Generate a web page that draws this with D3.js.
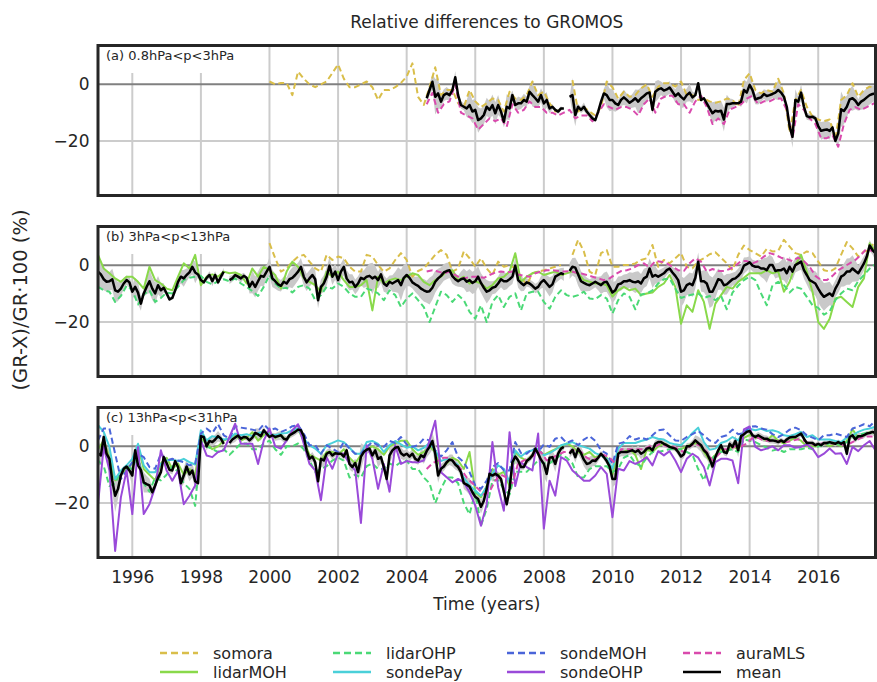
<!DOCTYPE html>
<html><head><meta charset="utf-8">
<script src="https://cdn.jsdelivr.net/npm/d3@7"></script>
<style>body{margin:0;background:#fff;} svg{display:block;}</style>
</head><body><svg id="chart" width="877" height="682"></svg>
<script>
// ---------------- DATA (relative differences, %) ----------------
const MLS_START = 2004 + 7/12;   // first auraMLS / mean month in panel (a)
const tickYears = [1996,1998,2000,2002,2004,2006,2008,2010,2012,2014,2016];
const yTickValues = [0, -20];
const legendNames = ["somora","lidarMOH","lidarOHP","sondePay","sondeMOH","sondeOHP","auraMLS","mean"];
const panelLabels = ["(a) 0.8hPa<p<3hPa", "(b) 3hPa<p<13hPa", "(c) 13hPa<p<31hPa"];

// Panel (a): somora bimonthly from 2000.0, auraMLS bimonthly from MLS_START, mean monthly from MLS_START
const aSomora = [1,0,0.5,0.5,-3.8,4.5,2,0,-1,0,1,4,7,2,-1,-1,
 0,1,-1,-5.5,-2,-2,-1,0.5,2.7,7.4,-4.4,-7.3,-1,6,-3.8,-2,-2,-6.7,-8,-2,-6,-8,-6.7,-5,-5.5,-9.6,-2.6,-5,-5.5,-3.8,1,-3.8,-2.6,-6.7,-9.6,-9,null,1.5,-9.6,-8,-9.6,-11,-8,1,
 -1,-5,-2.6,-4.4,-3.8,-1.4,0,-4.4,-0.8,0.4,0.4,-0.8,1,-3.8,-3.8,-5.5,-5,-6,-6.5,-6,-5,-5.5,-7.9,1.5,3.9,-2,-3.2,-2,-2.6,2,-3.2,-17,-5.5,-2,-7.9,-11.4,-12.4,-13,-12.4,-19.6,-5.5,-3.8,0.4,-4.4,-2,-0.8,-1.4];
const aAuraMLS = [-7,-3,-10,-7,-6,0,-10,-11,-12,-16,-14,-12,-13,-12,-15,-7,-10,-9,-6,-8,
 -8,-10,-10,-11,-10,-9,-12,-11,-11,-13,-10,-7,-8,-9,-8,-8,-9,-11,-7,-5,
 -10,-5,-4,-4,-7,-7,-10,-6,-4,-8,-14,-12,-14,-9,-8,-7,-5,-4,-7,-6,
 -6,-5,-5,-9,-19,-7,-9,-12,-14,-19,-19,-18,-22,-14,-9,-8,-9,-8,-7,-6];
const aMean = [-4.9,-2,0.9,-4.4,-3.2,-6.1,-3.8,-3.2,-3.8,-2,
 2.5,-3.8,-7.3,-7.9,-8.5,-7.3,-9.6,-9,-12.6,-12,
 -10.8,-7.9,-9,-7.3,-10.2,-7.3,-9.6,-13.2,-7.9,-8.5,
 -3.8,-7.3,-6.7,-6.7,-5.5,-6.1,-2.6,-3.8,-4.9,-6.1,
 -3.8,-6.7,-5.5,-8.5,-7.9,-9,-9.6,-8.5,-8.5,null,
 -4.4,-3.8,-10.8,-7.9,-9,-7.9,-9.6,-10.8,-12,-12.6,
 -9.6,-6.1,-3.2,-3.8,-5.5,
 -5.5,-6.7,-7.3,-5.5,-4.6,-5.5,-6.5,-5.8,-4.9,-6.1,-4.9,-4.1,
 -3.2,-2.9,-9,-2.6,-1.8,-1.4,-2.2,-1.8,-1.1,-2.6,-4.1,-3.2,
 -4.4,-5.3,-3.8,-2.9,-4.6,-3.8,0.4,-5.5,-4.9,-6.7,-8.5,-10.2,
 -9.3,-9.6,-9.3,-12.4,-6.9,-6.9,-6.7,-6.7,-6.7,-6.1,-2,-2.9,
 -0.2,-2,-5.3,-4.9,-4.6,-3.4,-4.1,-3.8,-3.4,-2.9,-2,-2.9,
 -4.4,-7.9,-14.9,-18.5,-5.5,-6.1,-2.9,-7.9,-11.2,-11.6,-11.4,-12,
 -14.7,-16.4,-16.1,-15.9,-16.4,-15.2,-20,-17.3,-8.8,-9.4,-7.9,-5.3,
 -4.9,-5.8,-7.3,-6.1,-5.5,-4.6,-3.8,-3.4,-3.2];

// Panel (b): lidar series bimonthly from 1995.0, somora bimonthly from 2000.0, auraMLS bimonthly from MLS_START, mean monthly from 1995.0
const bLidarMOH = [3.7,-1.1,-2.8,-4.6,-5.8,-4,-4,-5.8,-8.2,-0.5,-5.2,-6.4,
 -8.2,-8.8,-4,0.7,-1.1,3.7,-7,-4,-3.2,-4,-2.2,-2.8,
 -2.5,-3.4,-6.4,-1.1,-4,-0.5,-1.7,-3.4,-8.2,-2.2,1.3,-0.5,
 -4.6,-5.8,-7,-9.3,-2.2,-4,-2.2,-5.2,-7.6,-7.6,
 -7,-5.2,-15.9,-4,-6.4,-5.2,-4.6,-5.2,-4,-2.8,-3.4,-5.8,-7,-5.2,-4,-2.2,-1.7,-5.2,-4,-6.4,-5.6,-6.4,-8.2,-7,-4.6,-4,-2.2,4.3,-5.8,-4,-2.8,-2.2,-3.4,-2.8,-2.2,-3.4,-2.8,-2.2,-2.8,-5.2,-5.8,-6.4,-6.4,-7,
 -11,-8.8,-7.6,-8.8,-8.2,-10.5,-9.9,-9.6,-7.6,-6.4,-3.4,-7.6,-20.6,-14.1,-16.4,-8.8,-12.9,-22.4,-13.5,-10.5,-7.6,-8.2,-5.8,-4.4,-2.8,-2.8,-2.8,-1.7,-2.8,-2.2,-9.3,-5.8,0.1,3.7,-2.2,-9.3,-20,-22.4,-18.8,-11.7,-11.1,-12.9,-14.7,-7.6,-4.6,7.8,4.9];
const bLidarOHP = [-7.6,-8.8,-9.3,-12.9,-10.8,-7.2,-8.8,-13.8,-10.3,-8.8,-12.9,-11.5,
 -9.6,-9.9,-7.6,-5.2,-4.4,-4,-3.7,-5.8,-6.7,-5.6,-4.9,-5.6,
 -4.6,-6.4,-7.6,-9.1,-10.8,-7.6,-3.4,-6.4,-8.2,-7.9,-9.6,-7.6,
 -7,-8.2,-12.3,-10.5,-7.6,-8.2,-6.4,-7.6,-9.9,-11.1,
 -11.1,-8.2,-8.8,-9.9,-12.3,-8.8,-10.5,-14.7,-11.7,-9.9,-12.3,-14.7,-20,-14.7,-9.3,-10.5,-12.9,-10.5,-12.3,-16.4,-18.8,-14.1,-20,-12.9,-10.5,-14.7,-11.1,-9.9,-15.9,-9.9,-9.3,-9.3,-12.9,-15.3,-11.1,-8.8,-10.5,-11.1,-10.5,-9.3,-11.7,-11.9,-10.5,-11.7,
 -17,-12.3,-9.9,-11.1,-15.5,-10.3,-9.9,-8.8,-6.4,-4.9,-4.6,-8.2,-11.5,-10.8,-10.3,-9.9,-11.5,-10.8,-12.3,-10.8,-15.5,-9.6,-7.2,-5.2,-4,-5.2,-9.9,-14.1,-7,-5.8,-7,-9.6,-7.6,-8.2,-11.1,-14.1,-15,-17.4,-16.2,-12.3,-9.9,-8.2,-8.8,-5.6,-3.4,-1.1,0.4];
const bSomora = [7.8,2.5,-2.2,-1.1,1.3,3.1,3.7,1.3,-1.1,-2.2,3.7,1.9,3.1,2.5,-0.5,-2.2,
 -2.2,3.7,3.1,0.1,-2.2,-1.1,1.9,4.3,1.9,-4,-2,-1.1,1.3,3.7,5.4,3.7,-2.2,-1.1,4.9,2.5,-0.5,2.5,-1.1,-3.4,1.3,-0.5,0.1,-1.1,-4,-7,-2.8,-2.2,-1.7,-1.1,-0.5,0.1,null,3.7,9,4.9,-2.2,-3.4,4.3,5.4,
 -0.5,-0.5,0.1,0.1,0.7,1.9,2.5,7.2,-0.5,1.9,0.7,2.5,4.3,-0.5,-1.1,1.5,2.5,3.9,4.6,2.7,0.7,-1.7,3.7,7,5.4,4.3,3.1,5.8,4.9,5.1,9,6.6,4.3,3.7,4.9,4.3,1.3,-1.7,-2.2,-1.1,3.7,8.2,6,3.1,4.9,5.4,9];
const bAuraMLS = [-2.2,-1.7,-2.2,-2.8,-2.2,-3.4,-4.6,-4.4,-4,-4,
 -4.4,-3.4,-2.5,-2.2,-2.5,-2.2,-3.2,-3.7,-4,-2.8,
 -2.2,-1.7,-1.7,-2,-2.2,-2,-2.5,-2.8,-3.4,-4,
 -4.6,-5.2,-4.6,-3.2,-2,-1.7,-1.1,0.1,0.7,-0.8,
 1.5,1.3,0.7,-0.5,-1.7,-2,0.7,2.5,1.3,-2.2,
 -1.3,-2,-2,-1.3,-0.1,1.5,1.5,0.7,1.5,3.1,
 4.3,3.7,2.7,2.2,1.5,2.7,1.5,-0.5,-3.7,-5.2,
 -5.2,-3.7,-1.7,-0.5,0.7,1.9,3.7,6,4.9];
const bMean = [-2.2,-3.2,-4.9,-5.8,-5.6,-4.9,-8.8,-9.3,-8.2,-6.4,-5.2,-6,
 -9.3,-7.6,-9.6,-13.5,-9.9,-7.6,-5.6,-8.2,-9.9,-7,-8.8,-7.9,
 -9.9,-12,-11.5,-8.8,-5.8,-4,-4.6,-3.4,-2.5,-0.5,-2.5,-3.2,
 -5.2,-6,-4.4,-3.4,-5.6,-3.4,-6,-4,-2.2,null,-5.2,-4.6,
 -3.4,-4,-4.6,-3.7,-4.4,-7.6,-5.8,-7.6,-5.6,-3.7,-4,-2.2,
 -0.5,-4.6,-5.6,-6.7,-7.2,-5.8,-6.4,-4.9,-4.4,-3.4,-2.2,-0.5,
 -4,-6,-4.6,-3.4,-4.9,-12.3,-7.6,-6.4,-4,-0.1,-4,-2.2,
 -5.2,-2.2,-0.5,-4.6,-6,-5.8,-7.6,-6.4,-4.4,-4.9,-4,-3.7,
 -4.6,-4,-5.2,-3.2,-6.4,-7.2,-5.8,-6.4,-5.8,-5.2,-7,-4.4,
 -3.4,-4.4,-6,-6.7,-7.2,-8.2,-8.8,-9.3,-9.1,-7.9,-5.8,-4.6,
 -3.7,-2.5,-2,-1.7,-3.8,-4.9,-5.6,-4.9,-4.6,-5.8,-5.2,-6.2,
 -5.6,-4,-6.2,-7.9,-9.3,-8.8,-7.9,-7.6,-6.4,-4.9,-5.6,-5.6,
 -4.9,-4,-0.1,-5.2,-6.2,-7,-6,-6.4,-7.2,-8.2,-7.6,-6,
 -5.2,-6.4,-7.6,-6.7,-4,-3.4,-2.8,-3.2,null,-2,-0.5,-0.8,
 -3.2,-5.6,-6.2,-6.7,-7,-6.4,-5.8,-6.4,-7,-6,-5.8,-7.6,
 -9.6,-8.8,-6.7,-6.4,-5.6,-5.6,-5.2,-5.8,-6,-5.6,-6.4,-4.6,
 -4,-1.1,-4,-3.4,-4,-3.4,-2.8,-1.7,-1.1,-2.5,-3.7,-5.2,
 -9.3,-8.8,-7,-6.4,-7,-4.4,1.3,-5.6,-5.6,-6.4,-9.3,-9.3,
 -7.2,-4.9,-5.2,-7,-6.7,-5.8,-4.9,-4.6,-3.7,-2.5,-0.1,0.4,
 1.1,-0.1,-0.5,-0.5,-1.1,-1.1,-1.7,0.1,0.1,-2,-1.7,-1.7,
 -1.1,-2.8,-0.5,-2.2,0.1,0.7,1.3,-1.7,-3.4,-5.2,-5.8,-6.4,
 -8.2,-9.9,-11.1,-10.5,-9.9,-10.8,-8.2,-6.4,-4,-3.4,-2.2,-2.2,
 -1.1,-2,-2.8,-1.1,0.7,3.1,7,5.4,4.3];

// Panel (c): all instruments bimonthly from 1995.0 (auraMLS from MLS_START), mean monthly from 1995.0
const cLidarMOH = [-1,2,-4,-12,-10,-8,-6,0,-8,-10,-12,-6,-4,-8,-6,-10,-8,-10,
 3,1,-1,0,2,3,4,2,3,5,2,4,5,3,4,2,5,6,2,-3,-4,-5,-2,-2,-3,-1,-4,-6,
 -3,-1,0,-1,-3,0,1,2,2,-1,-3,-2,0,-2,-8,-6,-4,-5,-8,-2,-16,-18,-14,-8,-10,-9,-14,-2,-4,-5,-3,-1,-3,-2,-1,0,1,0,-2,-3,-2,-4,-3,-4,
 -10,-2,-2,-1,-3,-8,-1,-2,0,1,0,-1,-1,0,1,1,-2,-5,-3,-1,-2,0,-1,3,4,3,3,2,4,2,1,2,3,2,0,0,0,1,0,1,0,2,6,3,4,5,5];
const cLidarOHP = [-5,-7,-14,-13,-9,-7,-8,-3,-13,-16,-11,-12,-10,-7,-9,-13,-15,-21,
 2,0,-1,-2,-1,-3,-1,1,1,-1,-1,1,2,-1,-3,0,0,1,-1,-5,-9,-8,-7,-5,-4,-5,-11,-10,
 -11,-7,-6,-8,-8,-6,-7,-5.5,-5,-8,-8,-11,-13,-20,-15,-11,-11,-13,-20,-24,-16,-28,-22,-12,-12,-15,-17,-9,-9,-9,-7,-5,-6,-6,-4.5,-3,-4,-6,-11,-11,-8,-7,-7,-7,
 -9,-8,-4,-3,-6,-7,-4,-2,-2,-1.5,-1,-1,-1,-2,-3,-8,-12,-6,-3,-2,-1.5,-1,-2,2.5,2,1.5,0.5,-0.5,-1.5,-1,-2,-1,-1,-1,-0.5,-1,0,0.5,1,1,0.5,1.5,3,4,4.5,5,5];
const cSondePay = [7.5,5.1,-0.2,-11.5,-8.5,-6.7,-4.4,0.9,-6.7,-9.1,-9.1,-6.2,-5,-4.7,-5.2,-4.4,-5.6,-6.4,
 5.7,2.1,3.6,3.1,2.4,2.7,4.5,3.9,4.3,3.6,4.7,5.1,4.3,3.9,4.5,4.7,5.7,6.3,2.7,0.4,-0.8,-2.6,0.4,1.2,2.1,1.5,-0.5,-2.6,
 -2.6,1.5,1.9,0.9,-2,0.4,1.9,0.7,-0.5,0,-1.4,-0.5,1.2,-1.4,-5.2,-4.4,-5,-6.7,-11.1,-13.8,-15.6,-17.4,-14.4,-9.7,-6.7,-7.9,-12.7,-1.4,-3.6,-2,-1.4,-0.8,-3.2,-2.4,-1.2,0.4,0.9,1.5,0.4,-0.2,-0.8,-2.4,-3.2,-4.4,
 -7.9,-0.8,1.2,1.2,1.2,1.9,2.4,3.3,2.7,2.4,1.2,0.7,0.4,2.4,4.7,6.6,1.5,-1.2,-0.8,1.2,1.9,3.3,2.1,5.4,6.2,5.7,6.2,5.4,5.7,5.1,3.9,3.6,4.3,5.1,3.3,3.9,2.4,2.4,2.4,1.9,1.5,3.1,3.9,5.1,5.9,6.3,6.9];
const cSondeMOH = [2.1,6.3,6.3,-2.6,-11.5,-8.5,-5.6,-2.6,-3.8,-7.3,-7.9,-2.6,-5,-4.4,-5,-5.6,-6.7,-6.2,
 4.5,6.3,4.7,7.8,3.9,2.7,7.1,6.6,6.3,5.9,5.4,7.8,5.7,6.3,5.1,5.9,7.1,7.5,4.5,0.4,0.4,-2.6,0.4,-0.8,-2,1.5,-0.8,-2.6,
 -2.6,-0.2,1.5,0.4,-0.2,1.9,1.2,3.3,0.7,-0.2,0.4,2.7,2.1,-1.4,-3.6,-1.4,1.5,-3.8,-5.6,-9.1,-13.8,-15,-12.1,-7.3,-5.9,-8.5,-8.5,1.5,-2.4,-2.6,-0.8,-2,0.7,-0.2,2.7,3.3,1.2,2.1,0.4,2.4,3.6,1.9,-1.4,-2.6,
 -6.2,0.9,1.5,3.6,2.4,3.1,2.4,3.9,5.7,5.9,3.9,2.1,1.9,3.3,4.3,5.4,3.9,2.1,1.2,3.3,3.9,5.9,4.3,4.7,6.9,7.1,6.3,5.9,4.3,3.3,4.3,5.9,6.6,5.7,3.9,3.1,2.1,3.9,3.9,4.5,3.9,3.3,6.3,6.9,7.8,7.1,9];
const cSondeOHP = [-20.4,-0.2,-8.5,-36.9,-18,-8.5,-23.9,-0.2,-23.9,-20.4,-14.4,-1.4,-8.5,-12.1,-8.5,-20.4,-17.4,-13.8,
 2.1,-3.2,-3.8,-2,-1.4,3.3,8,0.9,0.9,0.9,-6.2,2.1,6.3,0,-0.8,2.1,5.7,7.8,0.9,-6.2,-8.5,-19,-3.8,-7.9,-2.6,-2.6,-6.2,-8.5,
 -27,0.4,-4.4,-15,-6.2,-16,0.4,-6.2,-5.2,-5.6,-5.6,-5,2.1,9,-9.1,-10.9,-12.7,-11.5,-12.7,-16.2,-20.9,-28,-20.4,1.5,-14.4,-22.7,5,-14,-5.6,-7.3,-8.5,4.5,-29,-12.1,-17.4,-3.8,-5,-8.5,-10.3,-12.1,-12.1,-10.3,-7.3,-9.7,
 -25,-7.9,-8.5,-5.2,-6.2,-5.2,-3.8,-6.7,-1.7,-3.2,-1.7,-5,-9.1,-4.4,-2.6,-4,-7.3,-13.8,-5.6,-4.4,-4.4,-5,-13,6,7,-0.2,-1.4,-0.8,0,-1.4,0.4,0.4,-0.5,-0.2,0.7,-0.8,-3.8,-2.6,-0.8,-2.6,-2.4,-6.2,-0.2,-1.7,0.4,1.9,-1.4];
const cAuraMLS = [-8,-6,-5,-4,-4,-6,-8,-11,-13,
 -15,-17,-16,-12,-10,-11,-13,-6,-5,
 -4,-3,-2,-5,-4,-3,-2,-2,
 -1,-2,-4,-5,-4,-3,-4,
 -6,-1,-1,-1,-1,-1,0,0,1,
 0,0,-1,-2,0,1,0,-2,-5,
 -3,-1,-1,0,0,1,3,3,2,
 2,2,1.5,1.5,2,2.5,2,1,0.5,
 1,1,1,1,0.5,1,2,3,3.5,3.5];
const cMean = [-2.4,-3.2,3.3,-2.6,-4.4,-12.1,-17.4,-15,-10.3,-7.9,-7.1,-8.5,
 -10.3,-1.4,-6.7,-8.3,-12.7,-13.3,-13.8,-16.2,-13.8,-11.1,-9.1,-3.8,
 -5.9,-8.3,-8.5,-5.2,-7.3,-13,-10.3,-7.1,-9.9,-8.5,-12.3,-13,
 3.6,3.3,0,1.9,1.5,2.4,3.6,2.7,0.9,null,1.2,2.4,
 3.1,3.8,2.7,3.3,3.1,2.1,3.1,4.7,4.3,3.6,5.7,4.5,
 3.3,3.9,3.3,3.6,3.9,2.7,2.4,3.9,4.5,5.1,5.9,5.7,
 3.6,-1.4,-4.4,-3.6,-5.6,-12.3,-4.4,-5,-2.6,-2,-3.2,-2.4,
 -2.6,-2.6,-3.6,-1.4,-6.2,-7.3,-5.9,-9.1,-3.6,-2,-1.2,-0.8,
 -3.2,-1.4,-4.4,-3.8,-7.3,-11.5,-3.2,-1.4,-0.5,-0.2,-2.4,-3.2,
 -2.6,-3.6,-2.6,-4.4,-5,-3.2,-3.8,-1.7,-0.2,1.9,-2.6,-10.3,
 -7.9,-7.1,-5.6,-4.7,-5,-6.4,-7.3,-9.1,-13,-13.5,-14.2,-16.2,
 -17.8,-18.6,-21.3,-19.2,-15,-9.7,-10.3,-9.7,-10.3,-11.5,-15.9,-20.4,
 -15,-5.6,-3.6,-5,-7.3,-7.3,-5.2,-4.4,-3.2,-0.8,-2.6,-4.7,
 -6.2,-9.7,-4,-3.8,-6.2,-2.6,-0.8,-0.2,null,-2.6,-1.2,-3.8,
 -0.8,-2.4,-4.7,-6.2,-5.9,-5,-5.2,-4,-2.6,-3.8,-5.2,-7.1,
 -11.5,-11.5,-2.6,-2,-2,-2,-1.7,-1.4,-2,-1.4,-2.6,-2,
 -0.8,-0.5,-1.4,0.9,1.5,1.5,0.9,0.4,-0.2,-0.5,-0.8,-2,
 -3.6,-2.8,0,0,0.9,2.1,1.2,0.4,-1.4,-2.4,-4.4,-7.1,
 -3.8,-1.4,0.4,-2,-2.4,0.9,-0.2,1.9,-1.4,3.6,4.3,5.1,
 5.4,3.9,3.3,3.9,3.3,2.7,2.7,2.1,2.1,1.9,1.5,2.1,
 1.5,2.4,3.1,3.3,3.3,3.9,4.5,2.7,1.2,1.2,1.2,0.4,
 0.9,0.4,1.2,1.2,1.5,1.2,0.9,1.5,0.9,1.5,-2.6,3.3,
 3.9,2.4,3.6,3.6,3.9,4.5,4.7,5.1,4.7];

// ---------------- STYLE ----------------
const colors = {somora:"#d9be4a", lidarMOH:"#89d94a", lidarOHP:"#4ad976", sondePay:"#4ad0d9",
  sondeMOH:"#4a65d9", sondeOHP:"#9a4ad9", auraMLS:"#d94aad", mean:"#000000"};
const dashed = {somora:true, lidarOHP:true, sondeMOH:true, auraMLS:true};
const FONT = "'DejaVu Sans', sans-serif";
const TXT = "#262626";

const panels = [
  {label: panelLabels[0], top: 45.5, meanStart: MLS_START, mean: aMean, series: [
    {name:"somora", start:2000, step:2, values:aSomora},
    {name:"auraMLS", start:MLS_START, step:2, values:aAuraMLS}]},
  {label: panelLabels[1], top: 226.5, meanStart: 1995, mean: bMean, series: [
    {name:"somora", start:2000, step:2, values:bSomora},
    {name:"lidarMOH", start:1995, step:2, values:bLidarMOH},
    {name:"lidarOHP", start:1995, step:2, values:bLidarOHP},
    {name:"auraMLS", start:MLS_START, step:2, values:bAuraMLS}]},
  {label: panelLabels[2], top: 407.5, meanStart: 1995, mean: cMean, series: [
    {name:"lidarMOH", start:1995, step:2, values:cLidarMOH},
    {name:"lidarOHP", start:1995, step:2, values:cLidarOHP},
    {name:"sondePay", start:1995, step:2, values:cSondePay},
    {name:"sondeMOH", start:1995, step:2, values:cSondeMOH},
    {name:"sondeOHP", start:1995, step:2, values:cSondeOHP},
    {name:"auraMLS", start:MLS_START, step:2, values:cAuraMLS}]}
];

const X0 = 98, X1 = 875.5, PH = 150;
const x = d3.scaleLinear().domain([1995, 2017.67]).range([X0, X1]);
const svg = d3.select("#chart");

function interp(s, t) {
  const n = s.values.length;
  const f = (t - s.start) / (s.step / 12);
  if (f < -1e-6 || f > n - 1 + 1e-6) return null;
  let i0 = Math.floor(f + 1e-6); i0 = Math.max(0, Math.min(n - 1, i0));
  const fr = f - i0;
  const a = s.values[i0];
  if (Math.abs(fr) < 1e-6) return a;
  const b = s.values[i0 + 1];
  if (a == null || b == null) return null;
  return a + (b - a) * fr;
}

panels.forEach((p, pi) => {
  const y = d3.scaleLinear().domain([-39.2, 13.7]).range([p.top + PH, p.top]);
  const g = svg.append("g");
  const clipId = "clip" + pi;
  svg.append("clipPath").attr("id", clipId).append("rect")
    .attr("x", X0).attr("y", p.top).attr("width", X1 - X0).attr("height", PH);

  // grid
  g.selectAll(".vg").data(tickYears).join("line")
    .attr("x1", d => x(d)).attr("x2", d => x(d)).attr("y1", p.top).attr("y2", p.top + PH)
    .attr("stroke", "#cccccc").attr("stroke-width", 2);
  g.append("line").attr("x1", X0).attr("x2", X1).attr("y1", y(-20)).attr("y2", y(-20))
    .attr("stroke", "#cccccc").attr("stroke-width", 2);
  g.append("line").attr("x1", X0).attr("x2", X1).attr("y1", y(0)).attr("y2", y(0))
    .attr("stroke", "#808080").attr("stroke-width", 2);

  // label box
  g.append("rect").attr("x", X0 + 1.5).attr("y", p.top + 1.5).attr("width", 142).attr("height", 26)
    .attr("fill", "#fff");
  g.append("text").attr("x", X0 + 8).attr("y", p.top + 14.5).text(p.label)
    .attr("font-family", FONT).attr("font-size", 13).attr("fill", TXT);

  const data = g.append("g").attr("clip-path", `url(#${clipId})`);

  // band: mean ± standard error across instruments
  const meanPts = p.mean.map((v, i) => ({t: p.meanStart + i / 12, v}));
  const bandPts = meanPts.map(d => {
    if (d.v == null) return {t: d.t, lo: null, hi: null};
    const vals = p.series.map(s => interp(s, d.t)).filter(v => v != null);
    const n = vals.length;
    if (n < 2) return {t: d.t, lo: d.v, hi: d.v};
    const m = d3.mean(vals);
    const sd = Math.sqrt(d3.sum(vals, v => (v - m) ** 2) / (n - 1));
    const se = sd / Math.sqrt(n);
    return {t: d.t, lo: d.v - se, hi: d.v + se};
  });
  data.append("path").datum(bandPts)
    .attr("d", d3.area().defined(d => d.lo != null).x(d => x(d.t)).y0(d => y(d.lo)).y1(d => y(d.hi)))
    .attr("fill", "#c9c9c9");

  const line = d3.line().defined(d => d.v != null).x(d => x(d.t)).y(d => y(d.v));
  const ordered = legendNames.filter(n => n !== "mean")
    .map(n => p.series.find(s => s.name === n)).filter(Boolean);
  ordered.forEach(s => {
    const pts = s.values.map((v, i) => ({t: s.start + i * s.step / 12, v}));
    data.append("path").datum(pts).attr("d", line)
      .attr("fill", "none").attr("stroke", colors[s.name]).attr("stroke-width", 2)
      .attr("stroke-linejoin", "round")
      .attr("stroke-dasharray", dashed[s.name] ? "6,3.5" : null);
  });
  data.append("path").datum(meanPts).attr("d", line)
    .attr("fill", "none").attr("stroke", colors.mean).attr("stroke-width", 2.5)
    .attr("stroke-linejoin", "round");

  // frame
  g.append("rect").attr("x", X0).attr("y", p.top).attr("width", X1 - X0).attr("height", PH)
    .attr("fill", "none").attr("stroke", "#262626").attr("stroke-width", 3);

  // y axis labels
  const ya = g.append("g").attr("transform", `translate(${X0},0)`)
    .call(d3.axisLeft(y).tickValues(yTickValues).tickSize(0).tickPadding(8.5)
      .tickFormat(d => d === 0 ? "0" : "\u2212" + Math.abs(d)));
  ya.select(".domain").remove();
  ya.selectAll("text").attr("font-family", FONT).attr("font-size", 17).attr("fill", TXT);

  if (pi === 2) {
    const xa = g.append("g").attr("transform", `translate(0,${p.top + PH})`)
      .call(d3.axisBottom(x).tickValues(tickYears).tickSize(0).tickPadding(13.5).tickFormat(d3.format("d")));
    xa.select(".domain").remove();
    xa.selectAll("text").attr("font-family", FONT).attr("font-size", 17).attr("fill", TXT);
  }
});

// titles
svg.append("text").attr("x", (X0 + X1) / 2).attr("y", 28).attr("text-anchor", "middle")
  .attr("font-family", FONT).attr("font-size", 17).attr("fill", TXT).text("Relative differences to GROMOS");
svg.append("text").attr("x", (X0 + X1) / 2).attr("y", 610).attr("text-anchor", "middle")
  .attr("font-family", FONT).attr("font-size", 17).attr("fill", TXT).text("Time (years)");
svg.append("text").attr("transform", "translate(27,300) rotate(-90)").attr("text-anchor", "middle")
  .attr("font-family", FONT).attr("font-size", 19.5).attr("fill", TXT).text("(GR-X)/GR\u00b7100 (%)");

// legend (column-major, 4 columns x 2 rows)
const legX = [160, 333, 507, 683];
const legY = [653, 672];
legendNames.forEach((n, i) => {
  const cx = legX[Math.floor(i / 2)], cy = legY[i % 2];
  svg.append("line").attr("x1", cx).attr("x2", cx + 38).attr("y1", cy).attr("y2", cy)
    .attr("stroke", colors[n]).attr("stroke-width", 2.5)
    .attr("stroke-dasharray", dashed[n] ? "7,4" : null);
  svg.append("text").attr("x", cx + 53).attr("y", cy + 5.5).text(n)
    .attr("font-family", FONT).attr("font-size", 16).attr("fill", TXT);
});
</script>
</body></html>
